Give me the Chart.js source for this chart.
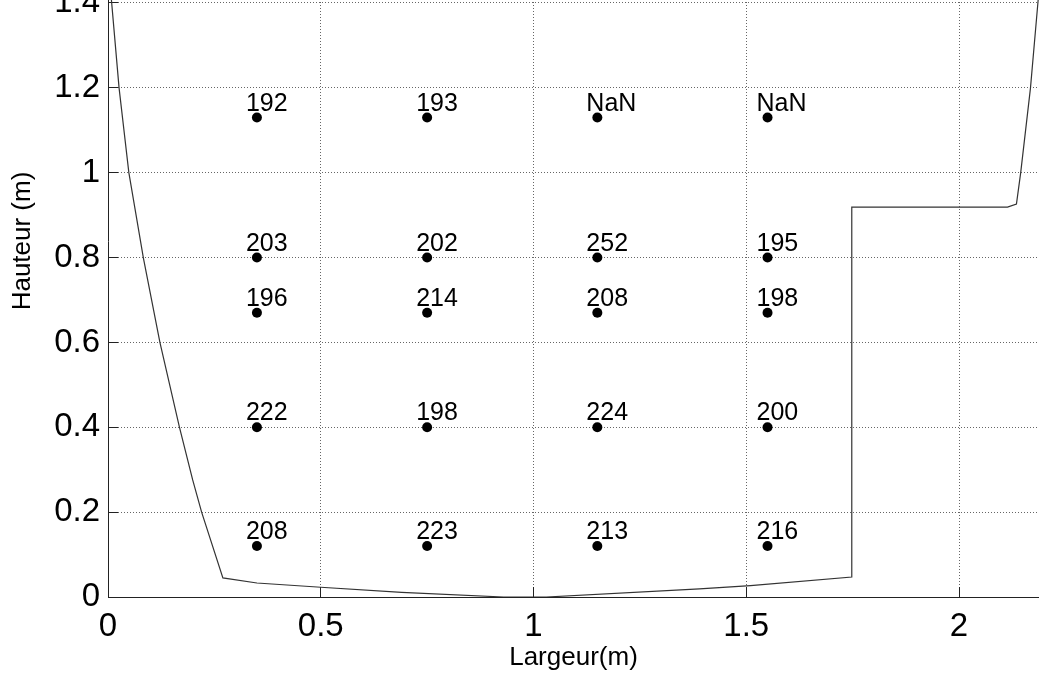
<!DOCTYPE html>
<html>
<head>
<meta charset="utf-8">
<script src="https://cdn.jsdelivr.net/npm/chart.js@4/dist/chart.umd.min.js"></script>
<style>
  html, body { margin: 0; padding: 0; background: #fff; overflow: hidden; }
  #frame { position: relative; width: 1039px; height: 679px; overflow: hidden; }
  #box { position: absolute; left: 0; top: -115px; width: 1039px; height: 794px; }
</style>
</head>
<body>
<div id="frame"><div id="box"><canvas id="chart"></canvas></div></div>
<script>
// Mesure points (grid of sensors)
const colX = [0.35, 0.75, 1.15, 1.55];
const rowY = [1.13, 0.80, 0.67, 0.40, 0.12];
const mesures = [
    ['192', '193', 'NaN', 'NaN'],
    ['203', '202', '252', '195'],
    ['196', '214', '208', '198'],
    ['222', '198', '224', '200'],
    ['208', '223', '213', '216']
];

// Cross-section profile
const profilX = [0, 0.026, 0.049, 0.083, 0.122, 0.168, 0.199, 0.22, 0.27, 0.35, 0.5, 0.69, 0.93, 1.03, 1.39, 1.51, 1.748, 1.748, 2.114, 2.135, 2.145, 2.168, 2.186, 2.2];
const profilY = [1.5, 1.2, 1.0, 0.8, 0.6, 0.4, 0.276, 0.2, 0.045, 0.033, 0.023, 0.011, 0, 0, 0.019, 0.027, 0.047, 0.919, 0.919, 0.926, 1.0, 1.2, 1.407, 1.55];

const xTicks = [0, 0.5, 1, 1.5, 2];
const yTicks = [0, 0.2, 0.4, 0.6, 0.8, 1, 1.2, 1.4, 1.6];

const FONT = 'Liberation Sans, Arial, Helvetica, sans-serif';

const points = [];
const labels = [];
rowY.forEach((y, r) => colX.forEach((x, c) => {
    points.push({ x: x, y: y });
    labels.push(mesures[r][c]);
}));
const profil = profilX.map((x, i) => ({ x: x, y: profilY[i] }));

// draw the value next to each point
const valueLabels = {
    id: 'valueLabels',
    afterDatasetsDraw(chart) {
        const ctx = chart.ctx;
        const xs = chart.scales.x, ys = chart.scales.y;
        ctx.save();
        ctx.font = '25px ' + FONT;
        ctx.fillStyle = '#000';
        ctx.textAlign = 'left';
        ctx.textBaseline = 'alphabetic';
        points.forEach((p, i) => {
            ctx.fillText(labels[i], xs.getPixelForValue(p.x) - 11, ys.getPixelForValue(p.y) - 7);
        });
        ctx.restore();
    }
};

new Chart(document.getElementById('chart'), {
    type: 'scatter',
    data: {
        datasets: [
            {
                data: points,
                pointRadius: 5, pointHoverRadius: 5,
                pointBackgroundColor: '#000', pointBorderColor: '#000', borderWidth: 0
            },
            {
                data: profil,
                showLine: true, pointRadius: 0,
                borderColor: '#333', borderWidth: 1.2, tension: 0
            }
        ]
    },
    options: {
        responsive: true, maintainAspectRatio: false, animation: false,
        layout: { padding: 0, autoPadding: false },
        scales: {
            x: {
                type: 'linear', min: 0, max: 2.188,
                afterBuildTicks: s => { s.ticks = xTicks.map(v => ({ value: v })); },
                afterFit: s => { s.height = 82; s.paddingLeft = 0; s.paddingRight = 0; },
                grid: { color: '#666', borderDash: [1, 2], tickLength: -10, tickColor: '#222', tickWidth: 1 },
                border: { color: '#222', width: 1, dash: [1, 2] },
                ticks: { font: { size: 33, family: FONT }, color: '#000', padding: 20, maxRotation: 0,
                         callback: v => String(v) },
                title: { display: true, text: 'Largeur(m)', font: { size: 26, family: FONT }, color: '#000',
                         padding: { top: 0, bottom: 6 } }
            },
            y: {
                type: 'linear', min: 0, max: 1.678,
                afterBuildTicks: s => { s.ticks = yTicks.map(v => ({ value: v })); },
                afterFit: s => { s.width = 108; s.paddingTop = 0; s.paddingBottom = 0; },
                grid: { color: '#666', borderDash: [1, 2], tickLength: -10, tickColor: '#222', tickWidth: 1 },
                border: { color: '#222', width: 1, dash: [1, 2] },
                ticks: { font: { size: 33, family: FONT }, color: '#000', padding: 18,
                         callback: v => String(v) },
                title: { display: true, text: 'Hauteur (m)', font: { size: 26, family: FONT }, color: '#000',
                         padding: { top: 7, bottom: 0 } }
            }
        },
        plugins: { legend: { display: false }, tooltip: { enabled: false } }
    },
    plugins: [valueLabels]
});
</script>
</body>
</html>
